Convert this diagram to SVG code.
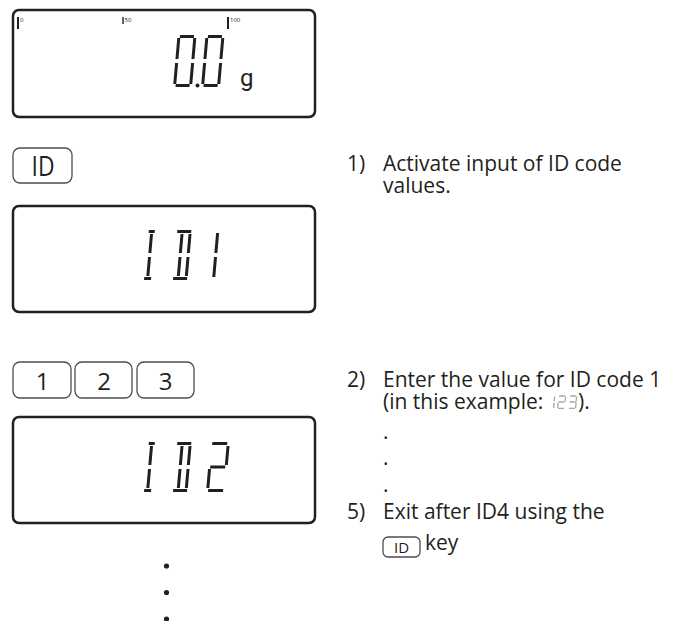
<svg xmlns="http://www.w3.org/2000/svg" width="679" height="621" viewBox="0 0 679 621">
  <style>
    .disp { fill: #fff; stroke: #231f20; stroke-width: 2.5; }
    .key { fill: #fff; stroke: #4d4d4d; stroke-width: 1.3; }
    .seg { fill: none; stroke: #231f20; stroke-width: 3; stroke-linecap: butt; }
    .gseg { fill: none; stroke: #a7a9ac; stroke-width: 1.3; stroke-linecap: butt; }
    .txt { font-family: "Open Sans", "Liberation Sans", sans-serif; font-size: 21px; fill: #231f20; }
    .ktxt { font-family: "Open Sans", "Liberation Sans", sans-serif; fill: #231f20; text-anchor: middle; }
    .scale { font-family: "Open Sans", "Liberation Sans", sans-serif; font-size: 6px; fill: #231f20; }
    .tick { stroke: #231f20; }
  </style>
  <defs>
    <g id="dig0">
      <path class="seg" d="M2.5,-50.5 H16.5 M1.5,-49 V-28 M17.5,-49 V-28 M1.5,-24 V-3 M17.5,-24 V-3 M2.5,-1.5 H16.5"/>
    </g>
    <g id="chI">
      <path class="seg" d="M0.5,-48.5 H6.5 M0,-1.5 H7 M3.5,-46 V-27 M3.5,-23 V-4"/>
    </g>
    <g id="chD">
      <path class="seg" d="M0,-48.5 H14 M0,-1.5 H14 M5,-46 V-27 M5,-23 V-4 M13,-46 V-27 M13,-23 V-4"/>
    </g>
  </defs>

  <!-- Display 1: 0.0 g -->
  <g id="display-weight">
    <rect class="disp" x="13" y="10" width="302" height="107" rx="6"/>
    <line class="tick" x1="18" y1="17" x2="18" y2="29" stroke-width="2"/>
    <text class="scale" x="20" y="22">0</text>
    <line class="tick" x1="123" y1="17" x2="123" y2="24" stroke-width="1.4"/>
    <text class="scale" x="124.5" y="22">50</text>
    <line class="tick" x1="228" y1="17" x2="228" y2="29" stroke-width="2"/>
    <text class="scale" x="230" y="22">100</text>
    <use href="#dig0" transform="translate(173,87) skewX(-5)"/>
    <circle cx="197.5" cy="85.5" r="2" fill="#231f20"/>
    <use href="#dig0" transform="translate(201,87) skewX(-5)"/>
    <text x="240" y="86" font-family="Roboto, 'DejaVu Sans', sans-serif" font-size="24" fill="#231f20">g</text>
  </g>

  <!-- ID key -->
  <g id="key-id">
    <rect class="key" x="13" y="148" width="59" height="35" rx="7"/>
    <text class="ktxt" x="43" y="176" font-size="27" textLength="23" lengthAdjust="spacingAndGlyphs">ID</text>
  </g>

  <!-- Display 2: ID1 -->
  <g id="display-id1">
    <rect class="disp" x="13" y="206" width="302" height="106" rx="6"/>
    <use href="#chI" transform="translate(144,280) skewX(-5)"/>
    <use href="#chD" transform="translate(173,280) skewX(-5)"/>
    <path class="seg" transform="translate(212,280) skewX(-5)" d="M1.5,-47 V-27 M1.5,-23 V-3"/>
  </g>

  <!-- Keys 1 2 3 -->
  <g id="key-1">
    <rect class="key" x="13" y="362" width="58" height="36" rx="7"/>
    <text class="ktxt" x="42.5" y="390" font-size="24">1</text>
  </g>
  <g id="key-2">
    <rect class="key" x="75" y="362" width="57" height="36" rx="7"/>
    <text class="ktxt" x="104" y="390" font-size="24">2</text>
  </g>
  <g id="key-3">
    <rect class="key" x="137" y="362" width="57" height="36" rx="7"/>
    <text class="ktxt" x="165.5" y="390" font-size="24">3</text>
  </g>

  <!-- Display 3: ID2 -->
  <g id="display-id2">
    <rect class="disp" x="13" y="417" width="302" height="106" rx="6"/>
    <use href="#chI" transform="translate(144,492) skewX(-5)"/>
    <use href="#chD" transform="translate(173,492) skewX(-5)"/>
    <path class="seg" transform="translate(207,492) skewX(-5)" d="M1,-48.5 H16 M17,-46 V-27 M1,-25 H16 M0.5,-23 V-4 M1,-1.5 H16"/>
  </g>

  <!-- continuation dots -->
  <g id="continuation">
    <circle cx="166.5" cy="566" r="2.6" fill="#231f20"/>
    <circle cx="166.5" cy="592.5" r="2.6" fill="#231f20"/>
    <circle cx="166.5" cy="619" r="2.6" fill="#231f20"/>
  </g>

  <g id="connectors"/>

  <!-- Step texts -->
  <g id="step-1">
    <text class="txt"><tspan x="347" y="171">1)</tspan><tspan x="383" y="171">Activate input of ID code</tspan><tspan x="383" y="193">values.</tspan></text>
  </g>

  <g id="step-2">
    <text class="txt"><tspan x="347" y="387">2)</tspan><tspan x="383" y="387">Enter the value for ID code 1</tspan><tspan x="383" y="409">(in this example:</tspan><tspan x="578" y="409">).</tspan><tspan x="383" y="439">.</tspan><tspan x="383" y="465">.</tspan><tspan x="383" y="492">.</tspan></text>
    <g transform="translate(547,409) skewX(-5)">
      <path class="gseg" d="M6.5,-12.5 V-7.5 M6.5,-6 V-1"/>
      <path class="gseg" transform="translate(10,0)" d="M1,-13 H7 M7.5,-12.5 V-7.5 M1,-7 H7 M0.5,-6.5 V-1 M1,-0.6 H7"/>
      <path class="gseg" transform="translate(21,0)" d="M1,-13 H7 M7.5,-12.5 V-7.5 M1,-7 H7 M7.5,-6.5 V-1 M1,-0.6 H7"/>
    </g>
  </g>

  <g id="step-5">
    <text class="txt"><tspan x="347" y="519">5)</tspan><tspan x="383" y="519">Exit after ID4 using the</tspan><tspan x="425" y="550">key</tspan></text>
    <rect class="key" x="383" y="537" width="37" height="20" rx="5"/>
    <text class="ktxt" x="401.5" y="553" font-size="15">ID</text>
  </g>
</svg>
